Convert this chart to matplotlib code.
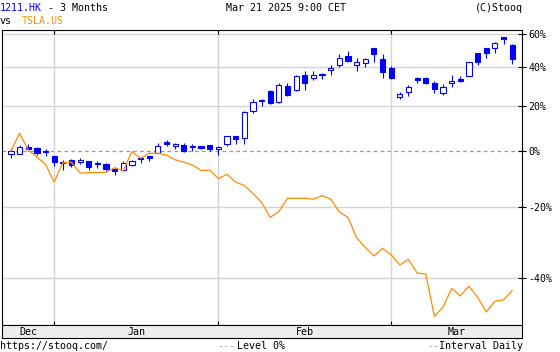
import numpy as np
import matplotlib
matplotlib.use("Agg")
import matplotlib.pyplot as plt
from matplotlib.ticker import NullLocator

# trading sessions of 1211.HK shown on the chart
dates = ['2024-12-23', '2024-12-24', '2024-12-27', '2024-12-30', '2024-12-31',
         '2025-01-02', '2025-01-03', '2025-01-06', '2025-01-07', '2025-01-08',
         '2025-01-09', '2025-01-10', '2025-01-13', '2025-01-14', '2025-01-15',
         '2025-01-16', '2025-01-17', '2025-01-20', '2025-01-21', '2025-01-22',
         '2025-01-23', '2025-01-24', '2025-01-27', '2025-01-28',
         '2025-02-03', '2025-02-04', '2025-02-05', '2025-02-06', '2025-02-07',
         '2025-02-10', '2025-02-11', '2025-02-12', '2025-02-13', '2025-02-14',
         '2025-02-17', '2025-02-18', '2025-02-19', '2025-02-20', '2025-02-21',
         '2025-02-24', '2025-02-25', '2025-02-26', '2025-02-27', '2025-02-28',
         '2025-03-03', '2025-03-04', '2025-03-05', '2025-03-06', '2025-03-07',
         '2025-03-10', '2025-03-11', '2025-03-12', '2025-03-13', '2025-03-14',
         '2025-03-17', '2025-03-18', '2025-03-19', '2025-03-20', '2025-03-21']

# 1211.HK candles, % change
o = [-1.3, -1.3, 1.6, 1.3, 0.0, -2.0, -4.6, -3.5, -4.4, -3.9, -5.1, -5.1, -7.5, -7.5, -5.4,
     -3.2, -2.6, -0.6, 3.8, 2.2, 2.4, 1.6, 1.9, 2.4, 0.8, 2.7, 6.1, 5.2, 17.3, 22.0,
     27.3, 21.9, 29.8, 27.8, 35.7, 34.2, 36.4, 38.6, 41.4, 46.5, 41.4, 42.2, 51.0, 44.5, 39.4,
     24.4, 26.6, 33.9, 33.9, 31.2, 26.1, 31.6, 33.4, 35.0, 48.0, 51.0, 51.0, 58.2, 53.1]
h = [1.2, 2.4, 2.7, 1.6, 0.8, -1.8, -3.5, -3.3, -2.9, -3.8, -3.9, -4.7, -6.6, -3.9, -3.5,
     -2.3, -2.0, 3.1, 4.5, 3.3, 3.1, 2.7, 2.0, 2.5, 1.9, 6.2, 6.2, 17.4, 23.1, 23.2,
     27.6, 31.6, 31.6, 35.7, 37.9, 37.9, 36.6, 41.3, 47.5, 49.4, 45.5, 45.5, 51.1, 47.5, 40.7,
     26.9, 30.4, 34.5, 34.5, 32.5, 30.7, 35.7, 35.2, 42.9, 48.1, 51.1, 55.1, 58.3, 53.7]
l = [-2.7, -1.3, 0.0, -1.6, -1.9, -5.7, -7.2, -6.1, -5.2, -7.3, -6.5, -7.7, -9.2, -7.6, -5.8,
     -4.8, -3.9, -0.9, 2.0, 0.8, -0.4, 0.0, 0.8, 0.1, -1.7, 2.1, 2.7, 3.0, 16.6, 19.8,
     20.6, 21.1, 24.9, 27.4, 27.8, 33.0, 33.7, 35.5, 40.3, 43.1, 38.1, 40.3, 43.1, 34.2, 33.4,
     23.4, 24.9, 31.2, 30.7, 26.4, 25.1, 29.5, 31.8, 34.9, 41.4, 45.5, 48.4, 53.7, 41.8]
c = [0.1, 1.6, 0.8, -0.8, -0.5, -4.4, -4.8, -5.5, -3.4, -6.1, -5.2, -7.1, -7.6, -4.8, -4.0,
     -3.3, -2.7, 2.0, 3.0, 2.3, 0.1, 1.7, 1.2, 0.8, 1.6, 6.1, 4.8, 17.0, 21.9, 22.3,
     21.1, 30.4, 25.2, 35.2, 31.2, 35.7, 35.5, 38.8, 45.1, 43.7, 43.1, 44.5, 47.5, 37.5, 34.2,
     25.6, 29.2, 33.0, 31.2, 28.1, 29.5, 31.8, 32.5, 42.8, 42.8, 48.4, 54.1, 57.0, 44.7]

# TSLA.US comparison line, % change
tsla = [0.0, 7.4, 0.4, -2.4, -5.2, -11.7, -4.6, -4.4, -8.5, -8.3, -8.3, -8.2, -6.5, -7.6, -0.2,
        -2.9, -0.9, -0.9, -1.6, -3.5, -4.4, -5.5, -7.5, -7.4, -10.5, -8.9, -11.8, -12.9, -15.7, -18.6,
        -23.4, -21.6, -17.3, -17.3, -17.3, -17.6, -16.4, -17.6, -21.7, -23.4, -29.4, -32.1, -34.4, -32.4, -34.1,
        -36.7, -35.3, -38.7, -39.0, -48.5, -46.6, -42.4, -44.1, -41.9, -44.4, -47.6, -45.3, -45.0, -42.9]

month_names = ['Dec', 'Jan', 'Feb', 'Mar']
y_ticks = [-40, -20, 0, 20, 40, 60]

BLUE = '#0000ff'
ORANGE = '#ff8c00'
GRID = '#d4d4d4'

plt.rcParams['font.family'] = ['DejaVu Sans Mono']
FS = 7.2
W, H = 560, 352

fig = plt.figure(figsize=(W / 100, H / 100), dpi=100)
ax = fig.add_axes([2 / W, 1 - 325 / H, 520 / W, 295 / H])

x = np.arange(len(dates))
O = 1 + np.array(o) / 100
Hi = 1 + np.array(h) / 100
Lo = 1 + np.array(l) / 100
C = 1 + np.array(c) / 100
T = 1 + np.array(tsla) / 100

# month boundaries from the dates
months = [d[:7] for d in dates]
bounds = [i for i in range(1, len(months)) if months[i] != months[i - 1]]
xmin, xmax = -1.04, len(dates) + 0.14

ax.set_yscale('log')
ax.set_xlim(xmin, xmax)
ax.set_ylim(0.4972, 1.6257)

# grid
for t in y_ticks:
    if t == 0:
        ax.axhline(1, color='#999999', lw=0.9, ls=(0, (3, 2.5)), zorder=1)
    else:
        ax.axhline(1 + t / 100, color=GRID, lw=1, zorder=1)
for b in bounds:
    ax.axvline(b, color=GRID, lw=1, zorder=1)

# candles
ax.vlines(x, Lo, Hi, color=BLUE, lw=0.8, zorder=3)
lo_b = np.minimum(O, C)
hi_b = np.maximum(O, C)
hgt = np.maximum(hi_b - lo_b, 0.006 * lo_b)
face = ['white' if cc > oo else BLUE for oo, cc in zip(O, C)]
ax.bar(x, hgt, width=0.6, bottom=lo_b, color=face, edgecolor=BLUE, lw=0.8, zorder=4)

# comparison line
ax.plot(x, T, color=ORANGE, lw=0.9, zorder=5)

# axes styling
ax.yaxis.tick_right()
ax.set_yticks([1 + t / 100 for t in y_ticks])
ax.set_yticklabels([f'{t}%' for t in y_ticks])
ax.yaxis.set_minor_locator(NullLocator())
ax.tick_params(axis='y', right=True, left=False, direction='inout', length=6, width=0.8,
               labelsize=FS, pad=1.5)
ax.set_xticks(bounds)
ax.tick_params(axis='x', top=True, bottom=True, direction='in', length=3, width=0.8,
               labelbottom=False)
for s in ax.spines.values():
    s.set_linewidth(0.8)

# month band below the plot
bx = fig.add_axes([2 / W, 1 - 338 / H, 520 / W, 13 / H], facecolor='#eeeeee')
bx.set_xlim(xmin, xmax)
bx.set_ylim(0, 1)
bx.set_xticks([])
bx.set_yticks([])
for s in bx.spines.values():
    s.set_linewidth(0.8)
edges = [xmin] + bounds + [xmax]
for name, a, b in zip(month_names, edges[:-1], edges[1:]):
    bx.text((a + b) / 2, 0.45, name, ha='center', va='center', fontsize=FS)

# header and footer
fig.text(0, 1 - 8 / H, '1211.HK', color=BLUE, fontsize=FS, va='center')
fig.text(42 / W, 1 - 8 / H, ' - 3 Months', fontsize=FS, va='center')
fig.text(286 / W, 1 - 8 / H, 'Mar 21 2025 9:00 CET', fontsize=FS, va='center', ha='center')
fig.text(523 / W, 1 - 8 / H, '(C)Stooq', fontsize=FS, va='center', ha='right')
fig.text(0, 1 - 21 / H, 'vs', fontsize=FS, va='center')
fig.text(22 / W, 1 - 21 / H, 'TSLA.US', color=ORANGE, fontsize=FS, va='center')

fig.text(0, 1 - 346 / H, 'https://stooq.com/', fontsize=FS, va='center')
fig.text(217 / W, 1 - 346 / H, '---', color='#999999', fontsize=FS, va='center')
fig.text(237 / W, 1 - 346 / H, 'Level 0%', fontsize=FS, va='center')
fig.text(427 / W, 1 - 346 / H, '--', color='#999999', fontsize=FS, va='center')
fig.text(523 / W, 1 - 346 / H, 'Interval Daily', fontsize=FS, va='center', ha='right')

fig.savefig('out.png', dpi=100)
